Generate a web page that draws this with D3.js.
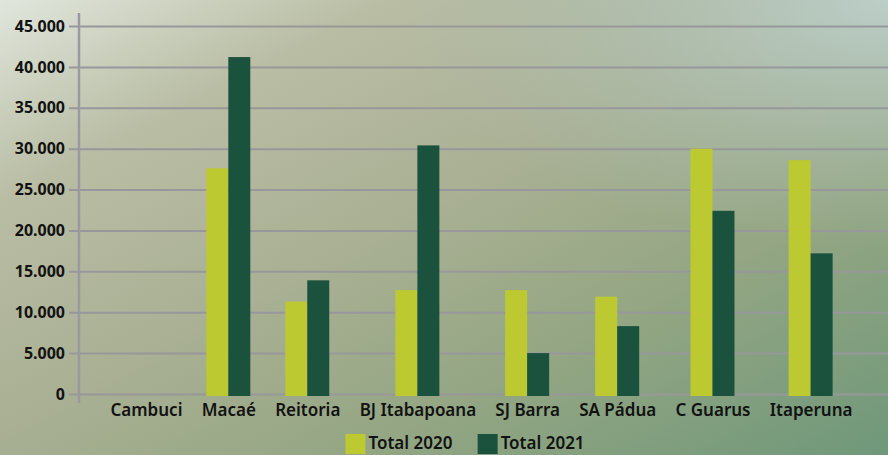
<!DOCTYPE html>
<html>
<head>
<meta charset="utf-8">
<script src="https://cdn.jsdelivr.net/npm/d3@7"></script>
<style>
  html, body { margin: 0; padding: 0; background: #adb296; }
  svg { display: block; }
  text { font-family: "Noto Sans", "Open Sans", sans-serif; fill: #121212; }
</style>
</head>
<body>
<svg id="chart" width="888" height="455"></svg>
<script>
// Campus totals per year
const categories = ["Cambuci", "Macaé", "Reitoria", "BJ Itabapoana", "SJ Barra", "SA Pádua", "C Guarus", "Itaperuna"];
const total2020 = [0, 27600, 11300, 12700, 12700, 11900, 30000, 28600];
const total2021 = [0, 41200, 13900, 30400, 5000, 8300, 22400, 17200];
const seriesNames = ["Total 2020", "Total 2021"];
const seriesColors = ["#bdc931", "#1b523e"];
const yTicks = [0, 5000, 10000, 15000, 20000, 25000, 30000, 35000, 40000, 45000];

const W = 888, H = 455;
const svg = d3.select("#chart");

// Background wash
const defs = svg.append("defs");
const lin = defs.append("linearGradient").attr("id", "bg")
  .attr("x1", "0").attr("y1", "0").attr("x2", "1").attr("y2", "1");
[["0", "#e0e6dc"], ["0.22", "#b9bda4"], ["0.45", "#abb195"], ["0.7", "#94a683"], ["1", "#6f987a"]]
  .forEach(([o, c]) => lin.append("stop").attr("offset", o).attr("stop-color", c));
const glow = defs.append("radialGradient").attr("id", "glow")
  .attr("cx", "1").attr("cy", "0").attr("r", "0.55");
glow.append("stop").attr("offset", "0").attr("stop-color", "#bdd0cb").attr("stop-opacity", 0.95);
glow.append("stop").attr("offset", "1").attr("stop-color", "#a9bfb5").attr("stop-opacity", 0);
svg.append("rect").attr("width", W).attr("height", H).attr("fill", "url(#bg)");
svg.append("rect").attr("width", W).attr("height", H).attr("fill", "url(#glow)");

const fmt = d3.formatLocale({ decimal: ",", thousands: ".", grouping: [3], currency: ["R$", ""] }).format(",d");

const y = d3.scaleLinear().domain([0, 45000]).range([394, 26]);

// Category slots sized to their labels, with equal gaps between labels
const labelSpan = [110, 852];
const labelFont = { size: 17, weight: 600 };
const probe = svg.append("text").attr("font-size", labelFont.size).attr("font-weight", labelFont.weight);
const labelW = categories.map(c => { probe.text(c); return probe.node().getComputedTextLength(); });
probe.remove();
const gapW = (labelSpan[1] - labelSpan[0] - d3.sum(labelW)) / (categories.length - 1);
let cursor = labelSpan[0];
const centers = labelW.map(w => { const c = cursor + w / 2; cursor += w + gapW; return c; });
const xc = d3.scaleOrdinal().domain(categories).range(centers);
const groupW = 44;
const x1 = d3.scaleBand().domain(seriesNames).range([-groupW / 2, groupW / 2]);

const gridLeft = 69;

// Gridlines with value labels
const gy = svg.append("g").attr("transform", `translate(${gridLeft},0)`)
  .call(d3.axisLeft(y).tickValues(yTicks).tickFormat(fmt).tickSize(-(W - gridLeft)).tickPadding(4));
gy.select(".domain").remove();
gy.selectAll(".tick line").attr("stroke", "#97979c").attr("stroke-width", 2);
gy.selectAll(".tick text").attr("font-size", 16).attr("font-weight", 700).attr("fill", "#121212");

// Bars
const rows = categories.map((c, i) => ({ cat: c, vals: [total2020[i], total2021[i]] }));
svg.append("g").selectAll("g").data(rows).join("g")
  .attr("transform", d => `translate(${xc(d.cat)},0)`)
  .selectAll("rect")
  .data(d => d.vals.map((v, k) => ({ key: seriesNames[k], v, k })))
  .join("rect")
  .attr("x", d => x1(d.key))
  .attr("width", x1.bandwidth())
  .attr("y", d => y(d.v))
  .attr("height", d => y(0) - y(d.v) + (d.v > 0 ? 2 : 0))
  .attr("fill", d => seriesColors[d.k]);

// Vertical axis line
const axisX = 79;
svg.append("line")
  .attr("x1", axisX).attr("x2", axisX)
  .attr("y1", y.range()[1] - 13).attr("y2", y.range()[0] + 9)
  .attr("stroke", "#9a99a2").attr("stroke-width", 2.5);

// Category labels
const gx = svg.append("g").attr("transform", `translate(0,${y(0)})`)
  .call(d3.axisBottom(xc).tickSize(0).tickPadding(10));
gx.select(".domain").remove();
gx.selectAll(".tick text").attr("font-size", labelFont.size).attr("font-weight", labelFont.weight).attr("fill", "#121212");

// Legend
const legend = svg.append("g").attr("transform", "translate(0,434)");
const items = legend.selectAll("g").data(seriesNames).join("g");
items.append("rect").attr("width", 20).attr("height", 20).attr("fill", (d, i) => seriesColors[i]);
items.append("text").attr("x", 23).attr("y", 14.5)
  .attr("font-size", 17).attr("font-weight", 600).text(d => d);
let offset = 0;
const gap = 25;
const widths = [];
items.each(function () { widths.push(this.getBBox().width); });
const total = d3.sum(widths) + gap * (widths.length - 1);
const start = 465 - total / 2;
items.attr("transform", (d, i) => {
  const tx = start + offset;
  offset += widths[i] + gap;
  return `translate(${tx},0)`;
});
</script>
</body>
</html>
